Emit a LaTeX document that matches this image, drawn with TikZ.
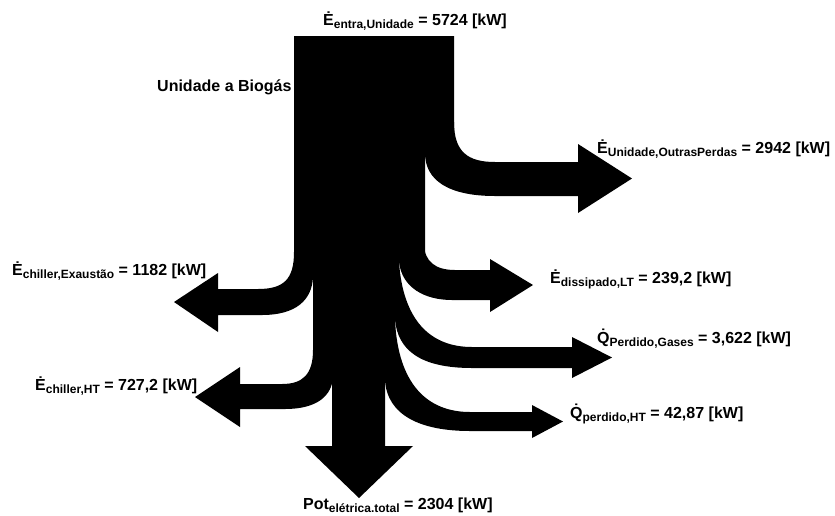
\documentclass[tikz,border=0pt]{standalone}
\usepackage{fontspec}
\setmainfont{Liberation Sans}
% Q with a rate dot above it
\newcommand\Qdot{Q\symbol{"0307}}
% lowered subscript in a smaller size
\newcommand\lowsub[1]{\raisebox{-3.5pt}{\fontsize{12}{12}\selectfont #1}}
\begin{document}
\begin{tikzpicture}[x=1pt,y=-1pt,
  flow/.style={fill=black},
  lab/.style={anchor=base west,inner sep=0pt,font=\fontsize{16}{18}\selectfont\bfseries}]
\useasboundingbox (0,0) rectangle (835,515);

% main trunk with the output arrow at the bottom
\fill[flow] (294,36) -- (454,36) -- (454,153) -- (425,153) -- (425,262) -- (399,262)
  -- (399,320) -- (395,320) -- (395,380) -- (385,380) -- (385,446) -- (413,446)
  -- (359,498) -- (305,446) -- (332,446) -- (332,377) -- (313,377) -- (313,277)
  -- (294,277) -- cycle;

% right: other losses
\fill[flow] (454,122) .. controls (454,152) and (468,162) .. (495,162) -- (578,162)
  -- (578,144) -- (632,178.5) -- (578,213) -- (578,196) -- (495,196)
  .. controls (448,196) and (425,180) .. (425,153) -- cycle;

% right: dissipated LT
\fill[flow] (424,243) .. controls (424,262) and (436,270) .. (455,270) -- (490,270)
  -- (490,259) -- (533,285) -- (490,312) -- (490,300) -- (452,300)
  .. controls (425,300) and (402,288) .. (399,262) -- cycle;

% right: exhaust gas loss
\fill[flow] (399,262) .. controls (403,320) and (430,347) .. (472,347) -- (572,347)
  -- (572,337) -- (612,357.5) -- (572,378) -- (572,368) -- (472,368)
  .. controls (420,368) and (398,350) .. (395,320) -- cycle;

% right: HT loss
\fill[flow] (395,320) .. controls (398,385) and (428,412) .. (470,412) -- (532,412)
  -- (532,405) -- (563,421.5) -- (532,438) -- (532,431) -- (470,431)
  .. controls (420,431) and (387,415) .. (385,380) -- cycle;

% left: chiller, exhaust
\fill[flow] (294,252) .. controls (294,279) and (284,289) .. (258,289) -- (218,289)
  -- (218,273) -- (174,302) -- (218,332) -- (218,315) -- (262,315)
  .. controls (296,315) and (312,300) .. (313,277) -- cycle;

% left: chiller, HT
\fill[flow] (313,350) .. controls (313,374) and (303,384) .. (282,384) -- (240,384)
  -- (240,367) -- (195,397) -- (240,427) -- (240,409) -- (285,409)
  .. controls (318,409) and (332,395) .. (333,377) -- cycle;

% labels
\node[lab] (entra)  at (323,25)  {Ė\lowsub{entra,Unidade} = 5724 [kW]};
\node[lab] (unid)   at (157,91)  {Unidade a Biogás};
\node[lab] (outras) at (597,153) {Ė\lowsub{Unidade,OutrasPerdas} = 2942 [kW]};
\node[lab] (chexa)  at (12,275)  {Ė\lowsub{chiller,Exaustão} = 1182 [kW]};
\node[lab] (dissip) at (550,283) {Ė\lowsub{dissipado,LT} = 239,2 [kW]};
\node[lab] (gases)  at (597,343) {\Qdot\lowsub{Perdido,Gases} = 3,622 [kW]};
\node[lab] (qht)    at (570,418) {\Qdot\lowsub{perdido,HT} = 42,87 [kW]};
\node[lab] (chht)   at (35,390)  {Ė\lowsub{chiller,HT} = 727,2 [kW]};
\node[lab] (pot)    at (303,509) {Pot\lowsub{elétrica.total} = 2304 [kW]};
\end{tikzpicture}
\end{document}
